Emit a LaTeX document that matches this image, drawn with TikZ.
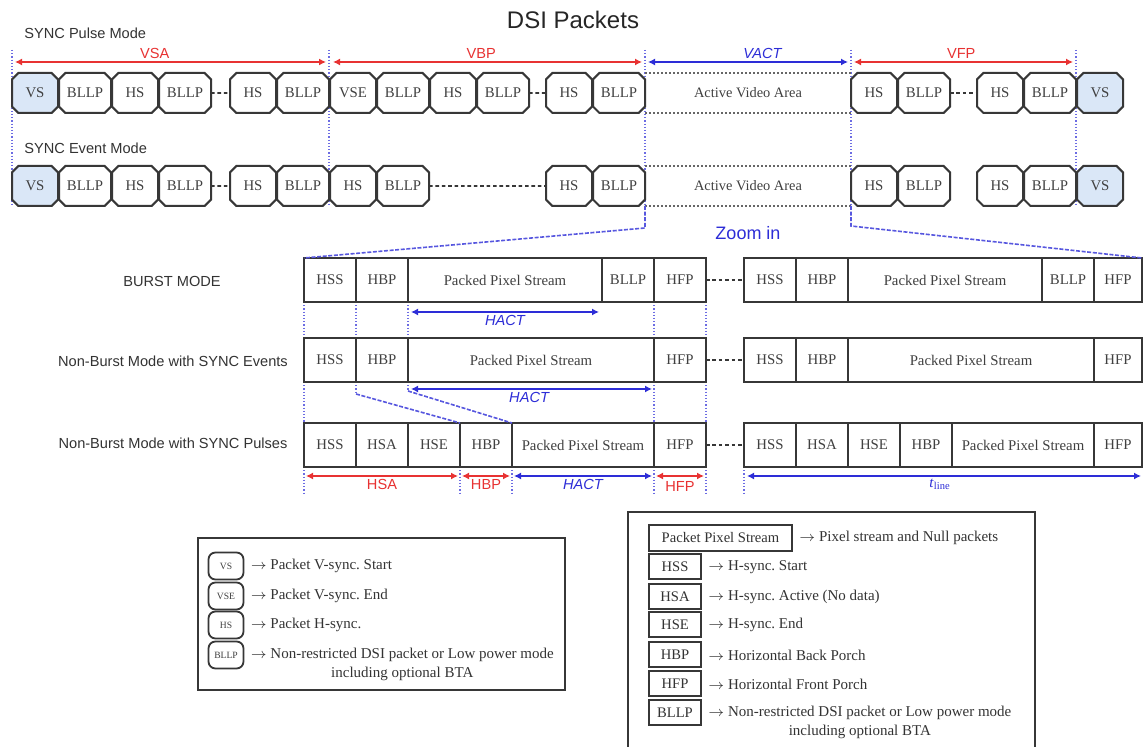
\documentclass[tikz,border=0pt]{standalone}
\usepackage{fontspec}
\setmainfont{Liberation Serif}
\setsansfont{Liberation Sans}
\usepackage{tikz}
\usetikzlibrary{shapes.misc,arrows.meta,calc,positioning,backgrounds}
\definecolor{arred}{RGB}{232,50,50}
\definecolor{arblue}{RGB}{45,45,215}
\definecolor{vsblue}{RGB}{218,231,247}
\definecolor{pkline}{RGB}{55,55,55}
\tikzset{
    pkt/.style ={chamfered rectangle, chamfered rectangle xsep=1.6pt, chamfered rectangle ysep=1.6pt,
        draw=pkline, line width=1pt, fill=white, inner sep=1pt, outer sep=0pt,
        minimum width=23pt, minimum height=20pt, font=\fontsize{7.4}{8}\selectfont, text=black!75},
    bllp/.style={minimum width=26pt},
    vsync/.style={fill=vsblue},
    avarea/.style={rectangle, inner sep=0pt, outer sep=0pt, minimum width=103pt, minimum height=20pt,
        font=\fontsize{7.2}{8}\selectfont, text=black!75},
    fld/.style={rectangle, draw=pkline, line width=0.9pt, fill=white, inner sep=1pt, outer sep=0pt,
        minimum width=26pt, minimum height=22pt, font=\fontsize{7.4}{8}\selectfont, text=black!75},
    lbl/.style={inner sep=1pt, font=\sffamily\fontsize{7.3}{8.5}\selectfont},
    redarr/.style={{Latex[length=3.5pt,width=3.5pt]}-{Latex[length=3.5pt,width=3.5pt]}, draw=arred, line width=1pt},
    bluarr/.style={{Latex[length=3.5pt,width=3.5pt]}-{Latex[length=3.5pt,width=3.5pt]}, draw=arblue, line width=1pt}
}

\begin{document}
\frenchspacing
\begin{tikzpicture}[
  x=0.5pt, y=-0.5pt,
  guide/.style={draw=arblue!70, line width=0.6pt, densely dotted},
  zoomline/.style={draw=arblue!80, line width=0.8pt, dash pattern=on 2pt off 0.8pt},
  gapline/.style={draw=pkline, line width=0.9pt, dash pattern=on 1.8pt off 1.4pt},
  avline/.style={draw=black!60, line width=1pt, densely dotted},
  keypkt/.style={rectangle, rounded corners=3.5pt, draw=pkline, line width=0.9pt, inner sep=0pt,
      minimum width=17.5pt, minimum height=13.5pt, font=\fontsize{4.8}{5}\selectfont, text=black!75},
  keyfld/.style={rectangle, draw=pkline, line width=1pt, inner sep=0pt,
      minimum width=26pt, minimum height=12.5pt, font=\fontsize{7.3}{8}\selectfont, text=black!80},
  keytxt/.style={inner sep=1pt, font=\fontsize{7.5}{9}\selectfont, text=black!80},
  legframe/.style={draw=pkline, line width=0.9pt}
]
\useasboundingbox (0,0) rectangle (1146,747);

% ---- titles ----
\node[font=\sffamily\fontsize{12}{14}\selectfont, text=black!85] (title) at (573,20) {DSI Packets};
\node[lbl, anchor=west, text=black!80] (mpulse) at (22,33) {SYNC Pulse Mode};
\node[lbl, anchor=west, text=black!80] (mevent) at (22,148) {SYNC Event Mode};

% ---- SYNC pulse mode ----
\node[pkt,vsync,anchor=west] (a1) at (12,93) {VS};
\node[pkt,bllp,right=0.5pt of a1] (a2) {BLLP};
\node[pkt,right=0.5pt of a2] (a3) {HS};
\node[pkt,bllp,right=0.5pt of a3] (a4) {BLLP};
\node[pkt,anchor=west] (a5) at (230,93) {HS};
\node[pkt,bllp,right=0.5pt of a5] (a6) {BLLP};
\node[pkt,right=0.5pt of a6] (a7) {VSE};
\node[pkt,bllp,right=0.5pt of a7] (a8) {BLLP};
\node[pkt,right=0.5pt of a8] (a9) {HS};
\node[pkt,bllp,right=0.5pt of a9] (a10) {BLLP};
\node[pkt,anchor=west] (a11) at (546,93) {HS};
\node[pkt,bllp,right=0.5pt of a11] (a12) {BLLP};
\node[avarea,right=0pt of a12] (av1) {Active Video Area};
\node[pkt,right=0pt of av1] (a13) {HS};
\node[pkt,bllp,right=0.5pt of a13] (a14) {BLLP};
\node[pkt,anchor=west] (a15) at (977,93) {HS};
\node[pkt,bllp,right=0.5pt of a15] (a16) {BLLP};
\node[pkt,vsync,right=0.5pt of a16] (a17) {VS};

% ---- SYNC event mode ----
\node[pkt,vsync,anchor=west] (b1) at (12,186) {VS};
\node[pkt,bllp,right=0.5pt of b1] (b2) {BLLP};
\node[pkt,right=0.5pt of b2] (b3) {HS};
\node[pkt,bllp,right=0.5pt of b3] (b4) {BLLP};
\node[pkt,anchor=west] (b5) at (230,186) {HS};
\node[pkt,bllp,right=0.5pt of b5] (b6) {BLLP};
\node[pkt,right=0.5pt of b6] (b7) {HS};
\node[pkt,bllp,right=0.5pt of b7] (b8) {BLLP};
\node[pkt,anchor=west] (b9) at (546,186) {HS};
\node[pkt,bllp,right=0.5pt of b9] (b10) {BLLP};
\node[avarea,right=0pt of b10] (av2) {Active Video Area};
\node[pkt,right=0pt of av2] (b11) {HS};
\node[pkt,bllp,right=0.5pt of b11] (b12) {BLLP};
\node[pkt,anchor=west] (b13) at (977,186) {HS};
\node[pkt,bllp,right=0.5pt of b13] (b14) {BLLP};
\node[pkt,vsync,right=0.5pt of b14] (b15) {VS};

% ---- gaps and active area ----
\draw[gapline] (a4) -- (a5);
\draw[gapline] (a10) -- (a11);
\draw[gapline] (a14) -- (a15);
\draw[gapline] (b4) -- (b5);
\draw[gapline] (b8) -- (b9);
\draw[gapline] (b14) -- (b15);
\draw[avline] (av1.north west) -- (av1.north east);
\draw[avline] (av1.south west) -- (av1.south east);
\draw[avline] (av2.north west) -- (av2.north east);
\draw[avline] (av2.south west) -- (av2.south east);

% ---- vertical timing ----
\draw[redarr, shorten <=1.5pt, shorten >=1.5pt] (a1.west |- 0,62) -- (a6.east |- 0,62)
    node[lbl, above, pos=0.45, text=arred] {VSA};
\draw[redarr, shorten <=1.5pt, shorten >=1.5pt] (a7.west |- 0,62) -- (a12.east |- 0,62)
    node[lbl, above, pos=0.48, text=arred] {VBP};
\draw[bluarr, shorten <=1.5pt, shorten >=1.5pt] (av1.west |- 0,62) -- (av1.east |- 0,62)
    node[lbl, above, pos=0.57, text=arblue, font=\sffamily\itshape\fontsize{7.3}{8.5}\selectfont] {VACT};
\draw[redarr, shorten <=1.5pt, shorten >=1.5pt] (a13.west |- 0,62) -- (a16.east |- 0,62)
    node[lbl, above, pos=0.49, text=arred] {VFP};

% ---- burst mode ----
\node[lbl, text=black!80] (lburst) at (172,281) {BURST MODE};
\node[fld,anchor=west] (c1) at (304,280) {HSS};
\node[fld,right=0pt of c1] (c2) {HBP};
\node[fld,right=0pt of c2,minimum width=97pt] (c3) {Packed Pixel Stream};
\node[fld,right=0pt of c3] (c4) {BLLP};
\node[fld,right=0pt of c4] (c5) {HFP};
\node[fld,anchor=west] (c6) at (744,280) {HSS};
\node[fld,right=0pt of c6] (c7) {HBP};
\node[fld,right=0pt of c7,minimum width=97pt] (c8) {Packed Pixel Stream};
\node[fld,right=0pt of c8] (c9) {BLLP};
\node[fld,right=0pt of c9,minimum width=24pt] (c10) {HFP};

% ---- non-burst, sync events ----
\node[lbl, text=black!80] (levent) at (173,361) {Non-Burst Mode with SYNC Events};
\node[fld,anchor=west] (d1) at (304,360) {HSS};
\node[fld,right=0pt of d1] (d2) {HBP};
\node[fld,right=0pt of d2,minimum width=123pt] (d3) {Packed Pixel Stream};
\node[fld,right=0pt of d3] (d4) {HFP};
\node[fld,anchor=west] (d5) at (744,360) {HSS};
\node[fld,right=0pt of d5] (d6) {HBP};
\node[fld,right=0pt of d6,minimum width=123pt] (d7) {Packed Pixel Stream};
\node[fld,right=0pt of d7,minimum width=24pt] (d8) {HFP};

% ---- non-burst, sync pulses ----
\node[lbl, text=black!80] (lpulse) at (173,443) {Non-Burst Mode with SYNC Pulses};
\node[fld,anchor=west] (e1) at (304,445) {HSS};
\node[fld,right=0pt of e1] (e2) {HSA};
\node[fld,right=0pt of e2] (e3) {HSE};
\node[fld,right=0pt of e3] (e4) {HBP};
\node[fld,right=0pt of e4,minimum width=71pt] (e5) {Packed Pixel Stream};
\node[fld,right=0pt of e5] (e6) {HFP};
\node[fld,anchor=west] (e7) at (744,445) {HSS};
\node[fld,right=0pt of e7] (e8) {HSA};
\node[fld,right=0pt of e8] (e9) {HSE};
\node[fld,right=0pt of e9] (e10) {HBP};
\node[fld,right=0pt of e10,minimum width=71pt] (e11) {Packed Pixel Stream};
\node[fld,right=0pt of e11,minimum width=24pt] (e12) {HFP};

\draw[gapline] (c5) -- (c6);
\draw[gapline] (d4) -- (d5);
\draw[gapline] (e6) -- (e7);

% ---- guides behind ----
\begin{scope}[on background layer]
\fill[white] (0,0) rectangle (1146,747);
\draw[guide] (a1.west |- 0,50) -- (a1.west |- 0,206);
\draw[guide] (a6.east |- 0,50) -- (a6.east |- 0,206);
\draw[guide] (a12.east |- 0,50) -- (a12.east |- 0,206);
\draw[guide] (a13.west |- 0,50) -- (a13.west |- 0,206);
\draw[guide] (a16.east |- 0,50) -- (a16.east |- 0,206);
\draw[guide] (c1.south west) -- (d1.north west);
\draw[guide] (c2.south west) -- (d2.north west);
\draw[guide] (c3.south west) -- (d3.north west);
\draw[guide] (c4.south east) -- ++(0,22);
\draw[guide] (c5.south west) -- (d4.north west);
\draw[guide] (c5.south east) -- (d4.north east);
\draw[guide] (d1.south west) -- (e1.north west);
\draw[guide] (d4.south west) -- (e6.north west);
\draw[guide] (d4.south east) -- (e6.north east);
\draw[guide] (d2.south west) -- ++(0,12) coordinate (k1);
\draw[guide] (d3.south west) -- ++(0,9) coordinate (k2);
\draw[guide] (e1.south west) -- ++(0,28);
\draw[guide] (e4.south west) -- ++(0,28);
\draw[guide] (e5.south west) -- ++(0,28);
\draw[guide] (e6.south west) -- ++(0,28);
\draw[guide] (e6.south east) -- ++(0,28);
\draw[guide] (e7.south west) -- ++(0,28);
\end{scope}

% ---- zoom in ----
\draw[zoomline] (av2.south west) -- ++(0,22) -- (c1.north west);
\draw[zoomline] (av2.south east) -- ++(0,20) -- (c10.north east);
\draw[zoomline] (k1) -- (e4.north west);
\draw[zoomline] (k2) -- (e5.north west);
\node[font=\sffamily\fontsize{9}{11}\selectfont, text=arblue] (zoom) at (748,233) {Zoom in};

% ---- horizontal timing ----
\draw[bluarr] ($(c3.south west)+(3,10)$) -- ($(c4.south west)+(-3,10)$)
    node[lbl, below, midway, text=arblue, font=\sffamily\itshape\fontsize{7.3}{8.5}\selectfont] {HACT};
\draw[bluarr] ($(d3.south west)+(3,7)$) -- ($(d4.south west)+(-2,7)$)
    node[lbl, below, pos=0.49, text=arblue, font=\sffamily\itshape\fontsize{7.3}{8.5}\selectfont] {HACT};
\draw[redarr] ($(e1.south west)+(2,9)$) -- ($(e4.south west)+(-2,9)$)
    node[lbl, below, midway, text=arred] {HSA};
\draw[redarr] ($(e4.south west)+(2,9)$) -- ($(e5.south west)+(-2,9)$)
    node[lbl, below, midway, text=arred] {HBP};
\draw[bluarr] ($(e5.south west)+(2,9)$) -- ($(e6.south west)+(-2,9)$)
    node[lbl, below, midway, text=arblue, font=\sffamily\itshape\fontsize{7.3}{8.5}\selectfont] {HACT};
\draw[redarr] ($(e6.south west)+(2,9)$) -- ($(e6.south east)+(-2,9)$)
    node[lbl, below=1pt, midway, text=arred] {HFP};
\draw[bluarr] ($(e7.south west)+(3,9)$) -- ($(e12.south east)+(-1,9)$)
    node[lbl, below, pos=0.49, text=arblue, font=\fontsize{7.5}{9}\selectfont] {\textit{t}\textsubscript{line}};

% ---- legend, V/H packets ----
\node[legframe, minimum width=183.5pt, minimum height=76pt, inner sep=0pt] (lg1) at (381.5,614) {};
\node[keypkt] (k1) at (226,566) {VS};
\node[keytxt, right=2pt of k1] (t1) {$\rightarrow$ Packet V-sync. Start};
\node[keypkt] (k2) at (226,596) {VSE};
\node[keytxt, right=2pt of k2] (t2) {$\rightarrow$ Packet V-sync. End};
\node[keypkt] (k3) at (226,625) {HS};
\node[keytxt, right=2pt of k3] (t3) {$\rightarrow$ Packet H-sync.};
\node[keypkt] (k4) at (226,655) {BLLP};
\node[keytxt, right=2pt of k4] (t4) {$\rightarrow$ Non-restricted DSI packet or Low power mode};
\node[keytxt, below=0pt of t4] (t5) {including optional BTA};

% ---- legend, line fields ----
\draw[legframe] (628,747) |- (1035,512) -- (1035,747);
\node[keyfld, minimum width=71.5pt, minimum height=13pt] (m0) at (720.5,538) {Packet Pixel Stream};
\node[keytxt, right=2pt of m0] (u0) {$\rightarrow$ Pixel stream and Null packets};
\node[keyfld] (m1) at (675,567) {HSS};
\node[keytxt, right=2pt of m1] (u1) {$\rightarrow$ H-sync. Start};
\node[keyfld] (m2) at (675,597) {HSA};
\node[keytxt, right=2pt of m2] (u2) {$\rightarrow$ H-sync. Active (No data)};
\node[keyfld] (m3) at (675,625) {HSE};
\node[keytxt, right=2pt of m3] (u3) {$\rightarrow$ H-sync. End};
\node[keyfld] (m4) at (675,655) {HBP};
\node[keytxt, right=2pt of m4] (u4) {$\rightarrow$ Horizontal Back Porch};
\node[keyfld] (m5) at (675,684) {HFP};
\node[keytxt, right=2pt of m5] (u5) {$\rightarrow$ Horizontal Front Porch};
\node[keyfld] (m6) at (675,713) {BLLP};
\node[keytxt, right=2pt of m6] (u6) {$\rightarrow$ Non-restricted DSI packet or Low power mode};
\node[keytxt, below=0pt of u6] (u7) {including optional BTA};

\end{tikzpicture}
\end{document}
